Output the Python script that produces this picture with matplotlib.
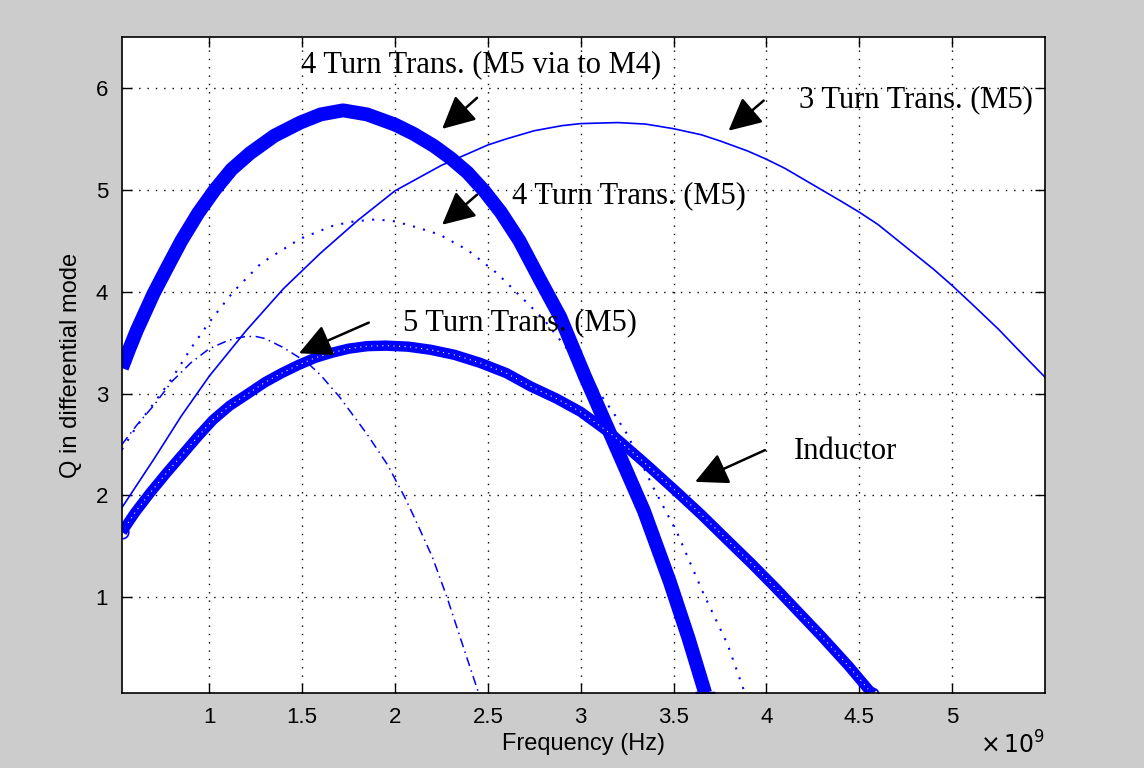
import numpy as np
import matplotlib
matplotlib.use('Agg')
import matplotlib.pyplot as plt
from matplotlib.ticker import FixedLocator, FixedFormatter

# frequency in GHz, Q values
via_f = [0.53, 0.57, 0.61, 0.70, 0.78, 0.85, 0.94, 1.03, 1.12, 1.22, 1.35, 1.49, 1.60, 1.72, 1.85, 2.00,
         2.10, 2.21, 2.30, 2.39, 2.48, 2.57, 2.67, 2.78, 2.89, 3.02, 3.16, 3.34, 3.48, 3.58, 3.67]
via_q = [3.25, 3.44, 3.62, 3.98, 4.26, 4.50, 4.77, 5.00, 5.20, 5.36, 5.53, 5.66, 5.74, 5.78, 5.74, 5.64,
         5.55, 5.43, 5.31, 5.17, 4.99, 4.78, 4.50, 4.12, 3.75, 3.18, 2.60, 1.85, 1.15, 0.60, 0.06]

t3_f = [0.53, 0.70, 0.85, 1.00, 1.20, 1.40, 1.60, 1.80, 2.00, 2.25, 2.50, 2.60, 2.75, 2.90, 3.00, 3.20,
        3.35, 3.50, 3.65, 3.75, 3.90, 4.00, 4.10, 4.25, 4.40, 4.50, 4.60, 4.75, 4.90, 5.00, 5.10, 5.25, 5.35, 5.50]
t3_q = [1.88, 2.35, 2.78, 3.17, 3.62, 4.03, 4.38, 4.70, 4.99, 5.24, 5.44, 5.50, 5.58, 5.63, 5.65, 5.66,
        5.645, 5.60, 5.54, 5.48, 5.38, 5.30, 5.21, 5.05, 4.89, 4.78, 4.66, 4.44, 4.22, 4.06, 3.89, 3.63, 3.44, 3.16]

t4_f = [0.53, 0.61, 0.70, 0.80, 0.90, 1.00, 1.13, 1.28, 1.49, 1.67, 1.78, 1.90, 2.00, 2.12, 2.24, 2.39,
        2.55, 2.80, 3.00, 3.18, 3.25, 3.39, 3.52, 3.66, 3.79, 3.88]
t4_q = [2.45, 2.68, 2.90, 3.15, 3.44, 3.70, 4.00, 4.28, 4.52, 4.65, 4.69, 4.71, 4.69, 4.63, 4.56, 4.41,
        4.18, 3.73, 3.27, 2.80, 2.60, 2.08, 1.63, 1.04, 0.54, 0.08]

t5_f = [0.53, 0.61, 0.70, 0.80, 0.90, 1.00, 1.10, 1.15, 1.20, 1.25, 1.30, 1.40, 1.53, 1.60, 1.70, 1.85,
        1.96, 2.05, 2.10, 2.20, 2.28, 2.37, 2.45]
t5_q = [2.50, 2.69, 2.88, 3.12, 3.30, 3.44, 3.52, 3.545, 3.56, 3.56, 3.54, 3.45, 3.30, 3.18, 2.97, 2.60,
        2.30, 1.99, 1.80, 1.40, 1.00, 0.50, 0.06]

ind_f = [0.53, 0.60, 0.68, 0.77, 0.86, 0.94, 1.02, 1.11, 1.21, 1.30, 1.39, 1.48, 1.57, 1.66, 1.75, 1.85,
         1.95, 2.07, 2.19, 2.32, 2.46, 2.60, 2.73, 2.87, 3.00, 3.18, 3.35, 3.52, 3.65, 3.79, 3.92, 4.05,
         4.18, 4.30, 4.44, 4.57]
ind_q = [1.64, 1.83, 2.02, 2.22, 2.41, 2.58, 2.74, 2.88, 3.00, 3.11, 3.20, 3.28, 3.35, 3.40, 3.44, 3.465,
         3.47, 3.46, 3.43, 3.38, 3.30, 3.20, 3.07, 2.95, 2.82, 2.58, 2.31, 2.03, 1.81, 1.56, 1.33, 1.09,
         0.84, 0.61, 0.33, 0.05]

x_ticks = [1.0, 1.5, 2.0, 2.5, 3.0, 3.5, 4.0, 4.5, 5.0]
x_tick_labels = ['1', '1.5', '2', '2.5', '3', '3.5', '4', '4.5', '5']
y_ticks = [1, 2, 3, 4, 5, 6]

# label text, text position (GHz, Q), arrow tail, arrow tip
notes = [
    ('4 Turn Trans. (M5 via to M4)', (2.462, 6.15), (2.442, 5.903), (2.254, 5.598)),
    ('3 Turn Trans. (M5)', (4.806, 5.81), (3.985, 5.876), (3.796, 5.58)),
    ('4 Turn Trans. (M5)', (3.258, 4.87), (2.442, 4.952), (2.254, 4.657)),
    ('5 Turn Trans. (M5)', (2.675, 3.62), (1.859, 3.696), (1.483, 3.395)),
    ('Inductor', (4.425, 2.36), (3.992, 2.444), (3.616, 2.133)),
]

GHZ = 1e9
blue = (0, 0, 1)

fig = plt.figure(figsize=(11.44, 7.68), dpi=100, facecolor='#cccccc')
ax = fig.add_axes([0.1066, 0.0977, 0.8069, 0.8541])
ax.set_facecolor('white')

ax.plot(np.array(via_f) * GHZ, via_q, color=blue, lw=10, solid_capstyle='butt',
        solid_joinstyle='round', marker='+', ms=14, mew=2.5, markevery=[-1])
ax.plot(np.array(t3_f) * GHZ, t3_q, color=blue, lw=1.2)
ax.plot(np.array(t4_f) * GHZ, t4_q, color=blue, lw=1.5, linestyle=(0, (1, 4)))
ax.plot(np.array(t5_f) * GHZ, t5_q, color=blue, lw=1.1, linestyle=(0, (6, 3, 1, 3)))
ax.plot(np.array(ind_f) * GHZ, ind_q, color=blue, lw=7.5, solid_capstyle='butt',
        solid_joinstyle='round')
ax.plot(np.array(ind_f) * GHZ, ind_q, color='white', lw=0.8, linestyle=(0, (1, 4)))
ax.plot(np.array(ind_f) * GHZ, ind_q, color=blue, lw=0, marker='o', ms=9,
        mfc='none', mew=1.2, markevery=[0, -1])

ax.set_xlim(0.53 * GHZ, 5.5 * GHZ)
ax.set_ylim(0.06, 6.5)
ax.xaxis.set_major_locator(FixedLocator([t * GHZ for t in x_ticks]))
ax.xaxis.set_major_formatter(FixedFormatter(x_tick_labels))
ax.set_yticks(y_ticks)
ax.set_yticklabels([str(v) for v in y_ticks])

ax.grid(True, color='black', linestyle=(0, (1, 5)), lw=1)
ax.tick_params(direction='in', length=7, width=1, top=True, right=True,
               labelsize=16, pad=10)
for lab in ax.get_xticklabels() + ax.get_yticklabels():
    lab.set_family('Liberation Sans')
for sp in ax.spines.values():
    sp.set_linewidth(1.2)

ax.set_xlabel('Frequency (Hz)', fontsize=17, family='Liberation Sans', labelpad=4)
ax.set_ylabel('Q in differential mode', fontsize=17, family='Liberation Sans', labelpad=10)
fig.text(0.9135, 0.012, r'$\times\,10^{9}$', ha='right', va='bottom', fontsize=17)

for txt, pos, tail, tip in notes:
    ax.text(pos[0] * GHZ, pos[1], txt, ha='center', va='baseline',
            fontsize=22, family='Liberation Serif')
    ax.annotate('', xy=(tip[0] * GHZ, tip[1]), xytext=(tail[0] * GHZ, tail[1]),
                arrowprops=dict(arrowstyle='-|>,head_length=1.0,head_width=0.5',
                                mutation_scale=20, color='black', lw=1.8,
                                shrinkA=0, shrinkB=0))

fig.savefig('out.png', dpi=100, facecolor=fig.get_facecolor())
